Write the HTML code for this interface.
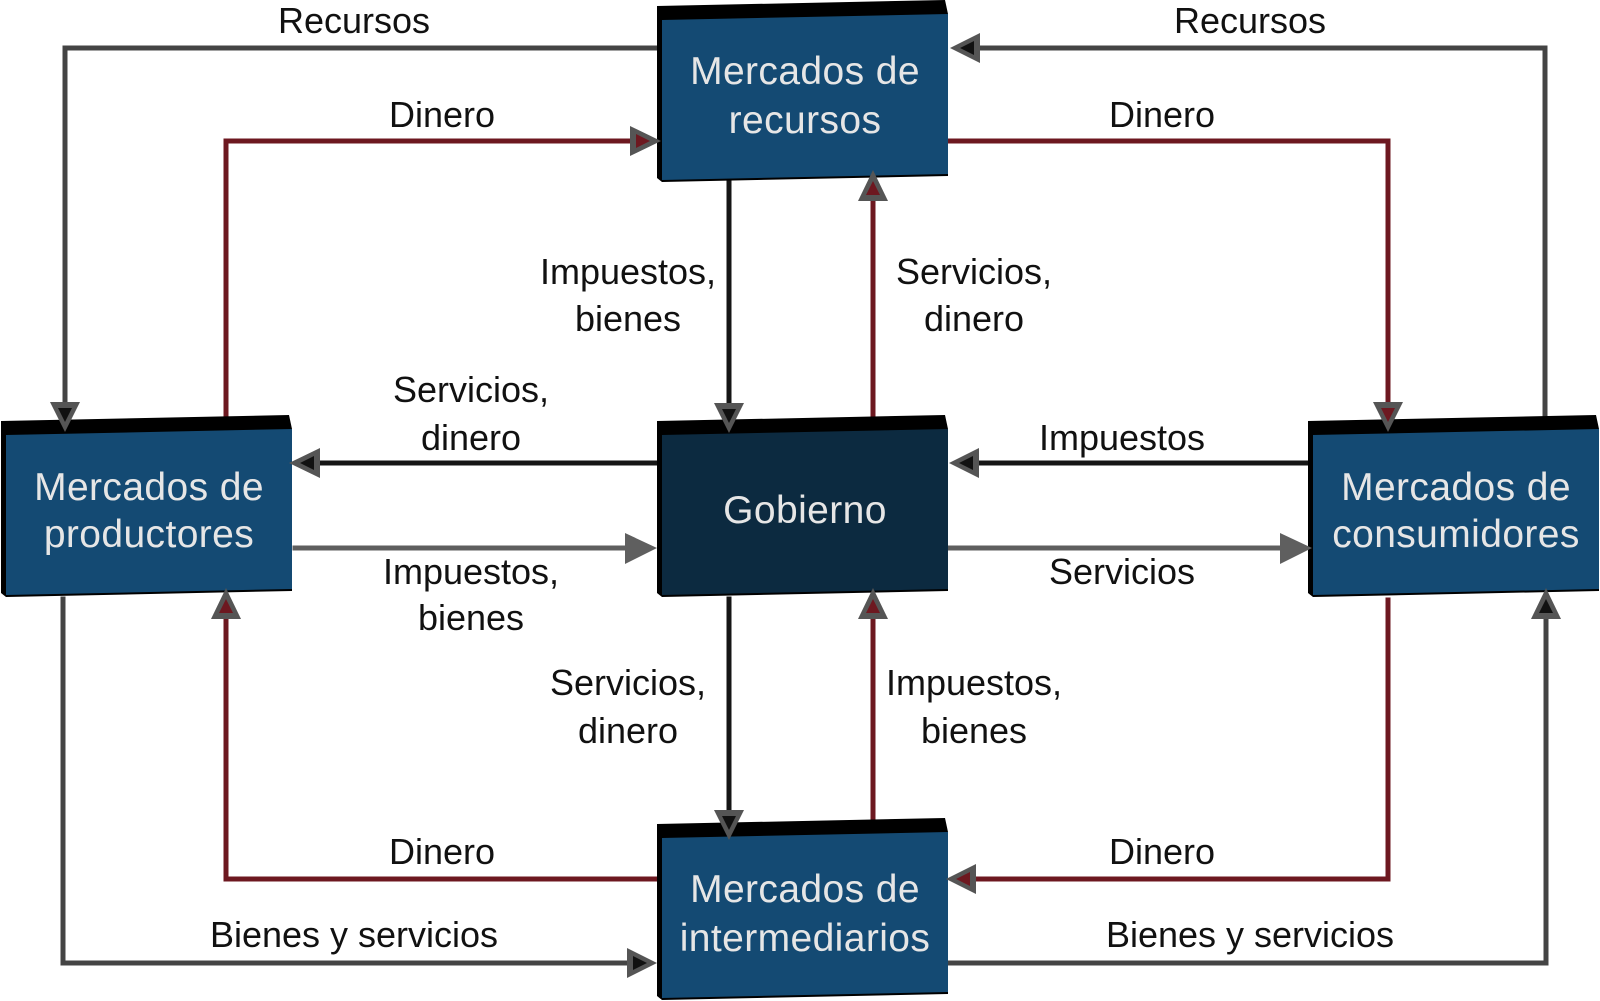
<!DOCTYPE html>
<html><head><meta charset="utf-8"><style>
html,body{margin:0;padding:0;background:#fff;}
svg{display:block;}
.lb{font-family:"Liberation Sans",sans-serif;font-size:36px;fill:#111;text-anchor:middle;}
.bx{font-family:"Liberation Sans",sans-serif;font-size:39px;letter-spacing:0.4px;fill:#e6e6e6;text-anchor:middle;}
</style></head><body>
<svg width="1600" height="1001" viewBox="0 0 1600 1001" xmlns="http://www.w3.org/2000/svg">
<!-- lines -->
<g fill="none" stroke-width="5" stroke-linejoin="miter" stroke-linecap="square">
<polyline points="655,48 65,48 65,405" stroke="#444"/>
<polyline points="1545,418 1545,48 978,48" stroke="#444"/>
<polyline points="226,418 226,141 632,141" stroke="#6d1820"/>
<polyline points="950,141 1388,141 1388,404" stroke="#6d1820"/>
<polyline points="729,182 729,405" stroke="#151515"/>
<polyline points="873,418 873,199" stroke="#6d1820"/>
<polyline points="655,463 318,463" stroke="#151515"/>
<polyline points="295,548 627,548" stroke="#5f5f5f"/>
<polyline points="1308,463 978,463" stroke="#151515"/>
<polyline points="950,548 1282,548" stroke="#5f5f5f"/>
<polyline points="729,599 729,812" stroke="#151515"/>
<polyline points="873,820 873,617" stroke="#6d1820"/>
<polyline points="655,879 226,879 226,617" stroke="#6d1820"/>
<polyline points="1388,600 1388,879 976,879" stroke="#6d1820"/>
<polyline points="63,599 63,963 628,963" stroke="#444"/>
<polyline points="950,963 1546,963 1546,617" stroke="#444"/>
</g>
<!-- boxes -->
<g>
<polygon points="657,6 945,0 948,14 948,176 662,182 657,178" fill="#000"/>
<polygon points="662,20 948,14 948,174 662,180" fill="#144a73"/>
<polygon points="1,421 289,415 292,429 292,591 6,597 1,593" fill="#000"/>
<polygon points="6,435 292,429 292,589 6,595" fill="#144a73"/>
<polygon points="657,421 945,415 948,429 948,591 662,597 657,593" fill="#000"/>
<polygon points="662,435 948,429 948,589 662,595" fill="#0c2a40"/>
<polygon points="1308,421 1596,415 1599,429 1599,591 1313,597 1308,593" fill="#000"/>
<polygon points="1313,435 1599,429 1599,589 1313,595" fill="#144a73"/>
<polygon points="657,824 945,818 948,832 948,994 662,1000 657,996" fill="#000"/>
<polygon points="662,838 948,832 948,992 662,998" fill="#144a73"/>
</g>
<!-- arrows: outer gray, inner colored -->
<g>
<polygon points="50,402 80,402 65,432" fill="#555"/><polygon points="58,408 72,408 65,422" fill="#111"/>
<polygon points="1373,402 1403,402 1388,432" fill="#555"/><polygon points="1381,408 1395,408 1388,422" fill="#6d1820"/>
<polygon points="714,403 744,403 729,433" fill="#555"/><polygon points="722,409 736,409 729,423" fill="#111"/>
<polygon points="714,810 744,810 729,840" fill="#555"/><polygon points="722,816 736,816 729,830" fill="#111"/>
<polygon points="858,201 888,201 873,170" fill="#555"/><polygon points="866,195 880,195 873,181" fill="#6d1820"/>
<polygon points="858,619 888,619 873,588" fill="#555"/><polygon points="866,613 880,613 873,599" fill="#6d1820"/>
<polygon points="211,619 241,619 226,588" fill="#555"/><polygon points="219,613 233,613 226,599" fill="#6d1820"/>
<polygon points="1531,619 1561,619 1546,588" fill="#555"/><polygon points="1539,613 1553,613 1546,599" fill="#111"/>
<polygon points="980,33 980,63 950,48" fill="#555"/><polygon points="974,41 974,55 960,48" fill="#111"/>
<polygon points="320,448 320,478 289,463" fill="#555"/><polygon points="314,456 314,470 300,463" fill="#111"/>
<polygon points="979,448 979,478 949,463" fill="#555"/><polygon points="973,456 973,470 959,463" fill="#111"/>
<polygon points="976,864 976,894 946,879" fill="#555"/><polygon points="970,872 970,886 956,879" fill="#6d1820"/>
<polygon points="630,126 630,156 661,141" fill="#555"/><polygon points="636,134 636,148 650,141" fill="#6d1820"/>
<polygon points="627,948 627,978 657,963" fill="#555"/><polygon points="633,956 633,970 647,963" fill="#111"/>
<polygon points="625,533 625,564 657,548" fill="#5f5f5f"/>
<polygon points="1280,533 1280,564 1312,548" fill="#5f5f5f"/>
</g>
<!-- box text -->
<text class="bx" x="805" y="84">Mercados de</text>
<text class="bx" x="805" y="133">recursos</text>
<text class="bx" x="149" y="500">Mercados de</text>
<text class="bx" x="149" y="547">productores</text>
<text class="bx" x="805" y="523">Gobierno</text>
<text class="bx" x="1456" y="500">Mercados de</text>
<text class="bx" x="1456" y="547">consumidores</text>
<text class="bx" x="805" y="902">Mercados de</text>
<text class="bx" x="805" y="951">intermediarios</text>
<!-- labels -->
<text class="lb" x="354" y="33">Recursos</text>
<text class="lb" x="1250" y="33">Recursos</text>
<text class="lb" x="442" y="127">Dinero</text>
<text class="lb" x="1162" y="127">Dinero</text>
<text class="lb" x="628" y="284">Impuestos,</text>
<text class="lb" x="628" y="331">bienes</text>
<text class="lb" x="974" y="284">Servicios,</text>
<text class="lb" x="974" y="331">dinero</text>
<text class="lb" x="471" y="402">Servicios,</text>
<text class="lb" x="471" y="450">dinero</text>
<text class="lb" x="1122" y="450">Impuestos</text>
<text class="lb" x="471" y="584">Impuestos,</text>
<text class="lb" x="471" y="630">bienes</text>
<text class="lb" x="1122" y="584">Servicios</text>
<text class="lb" x="628" y="695">Servicios,</text>
<text class="lb" x="628" y="743">dinero</text>
<text class="lb" x="974" y="695">Impuestos,</text>
<text class="lb" x="974" y="743">bienes</text>
<text class="lb" x="442" y="864">Dinero</text>
<text class="lb" x="1162" y="864">Dinero</text>
<text class="lb" x="354" y="947">Bienes y servicios</text>
<text class="lb" x="1250" y="947">Bienes y servicios</text>
</svg>
</body></html>
